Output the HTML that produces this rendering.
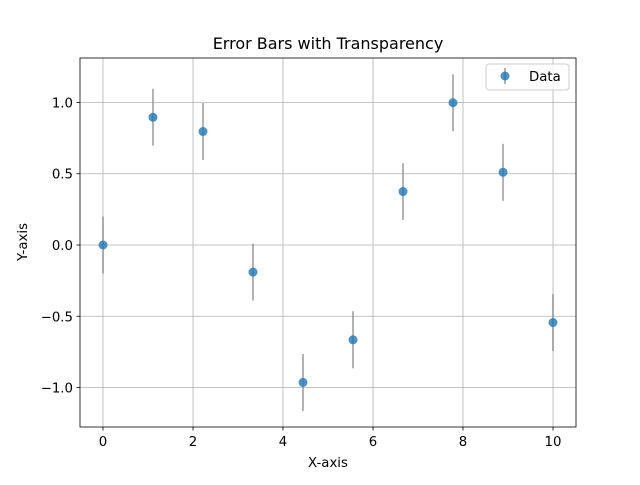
<!DOCTYPE html>
<html><head><meta charset="utf-8"><style>
body{margin:0;background:#fff;font-family:"Liberation Sans","DejaVu Sans",sans-serif}
svg text{font-family:"DejaVu Sans","Liberation Sans",sans-serif;font-size:13.3px;fill:#000}
</style></head><body>
<svg id="chart" width="640" height="480">
<rect width="640" height="480" fill="#fff"/>
<text x="328" y="49" text-anchor="middle" style="font-size:16px">Error Bars with Transparency</text>
<g id="grid"></g><g id="marks"></g><g id="axes"></g>
<text x="328" y="467" text-anchor="middle">X-axis</text>
<text transform="translate(27,242) rotate(-90)" text-anchor="middle">Y-axis</text>
<g>
<rect x="486" y="64" width="83" height="26" rx="3" fill="#fff" fill-opacity="0.8" stroke="#ccc"/>
<line x1="505" y1="68" x2="505" y2="84" stroke="#808080" stroke-width="1.5" opacity="0.8"/>
<circle cx="505" cy="76" r="4.5" fill="#1f77b4" fill-opacity="0.8"/>
<text x="529" y="81">Data</text>
</g>
</svg>
<script>
const xValues=[0,1.111,2.222,3.333,4.444,5.556,6.667,7.778,8.889,10];
const yValues=[0,0.896,0.796,-0.190,-0.964,-0.665,0.375,0.998,0.510,-0.544];
const yErrors=[0.2,0.2,0.2,0.2,0.2,0.2,0.2,0.2,0.2,0.2];
const xTicks=[0,2,4,6,8,10];
const yTicks=[-1.0,-0.5,0.0,0.5,1.0];
const yTickLabels=["\u22121.0","\u22120.5","0.0","0.5","1.0"];
const L=80,R=576,T=58,B=427;
const xmin=-0.511,xmax=10.511,ymin=-1.277,ymax=1.312;
const sx=v=>L+(v-xmin)/(xmax-xmin)*(R-L);
const sy=v=>B-(v-ymin)/(ymax-ymin)*(B-T);
const NS="http://www.w3.org/2000/svg";
function mk(tag,attrs,parent){const e=document.createElementNS(NS,tag);for(const k in attrs)e.setAttribute(k,attrs[k]);parent.appendChild(e);return e;}
const grid=document.getElementById('grid'),marks=document.getElementById('marks'),axes=document.getElementById('axes');
xTicks.forEach(t=>{const x=sx(t);
 const g=mk('line',{x1:x,x2:x,y1:T,y2:B,stroke:'#b0b0b0','stroke-width':0.8},grid);
 
 
 mk('line',{x1:x,x2:x,y1:B,y2:B+3.5,stroke:'#000','stroke-width':0.8},axes);
 const tx=mk('text',{x:x,y:B+19,'text-anchor':'middle'},axes);tx.textContent=t;
 
 });
yTicks.forEach((t,i)=>{const y=sy(t);
 const g=mk('line',{x1:L,x2:R,y1:y,y2:y,stroke:'#b0b0b0','stroke-width':0.8},grid);
 
 
 mk('line',{x1:L-3.5,x2:L,y1:y,y2:y,stroke:'#000','stroke-width':0.8},axes);
 const tx=mk('text',{x:L-7,y:y+5,'text-anchor':'end'},axes);tx.textContent=yTickLabels[i];
 
 });
const fr=mk('rect',{x:L,y:T,width:R-L,height:B-T,fill:'none',stroke:'#000','stroke-width':0.8},axes);


xValues.forEach((xv,i)=>{const x=sx(xv),y=yValues[i],e=yErrors[i];
 const l=mk('line',{x1:x,x2:x,y1:sy(y+e),y2:sy(y-e),stroke:'#808080','stroke-width':1.5,opacity:0.8},marks);
 
 
 const c=mk('circle',{cx:x,cy:sy(y),r:4.5,fill:'#1f77b4','fill-opacity':0.8},marks);
 
 });
</script>
</body></html>
